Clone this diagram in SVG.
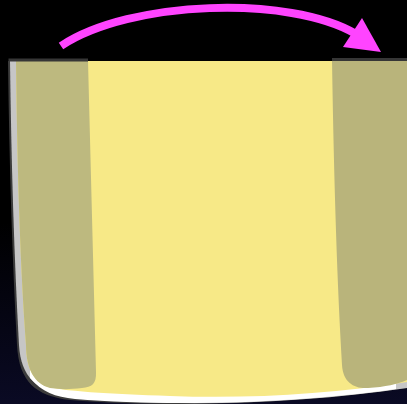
<svg xmlns="http://www.w3.org/2000/svg" width="407" height="404" viewBox="0 0 407 404">
  <defs>
    <linearGradient id="bg" x1="0" y1="0" x2="0" y2="1">
      <stop offset="0" stop-color="#000000"/>
      <stop offset="0.55" stop-color="#000000"/>
      <stop offset="1" stop-color="#0a0a24"/>
    </linearGradient>
    <style>
      .band { fill: #bdb97f; }
      .bandR { fill: #b9b47b; }
      .lid { fill: #363636; }
      .arrow { fill: none; stroke: #ff44ff; stroke-width: 8; }
    </style>
  </defs>
  <rect width="407" height="404" fill="url(#bg)"/>

  <g id="cup">
    <path d="M8,61 Q10,220 17,345 C19,382 36,396 70,400 C170,408 300,404 407,388 L407,61 Z" fill="#3c3c3c"/>
    <path d="M10,61 Q12,220 19,345 C21,377 36,391 70,397 C170,408 300,404 407,388 L407,61 Z" fill="#c6c6c6"/>
    <path d="M30,378 C42,392 55,397 75,399 C170,407 300,403 396,389 L396,370 L30,370 Z" fill="#ffffff"/>
    <path d="M16,61 L407,61 L407,382 C330,394 250,399 170,396 C110,394 60,391 45,386 C30,378 26,362 26,345 Q18,240 16,61 Z" fill="#f7e987"/>
  </g>

  <g id="band-left">
    <path class="band" d="M16,61 L88,61 L96,372 C96.5,384 92,387 82,388 C70,389.5 60,389.5 50,388 C34,384 26,368 26,345 Q18,240 16,61 Z"/>
    <rect class="lid" x="8.5" y="58.5" width="79.5" height="3"/>
  </g>

  <g id="band-right">
    <path class="bandR" d="M332,60 L407,60 L407,380 C398,384 385,387 368,388 C355,389 343,383 342,365 Q335,250 332,60 Z"/>
    <rect class="lid" x="332" y="58" width="75" height="3"/>
  </g>

  <g id="connectors">
    <path class="arrow" d="M61,46 C130,0 290,-5 356,34"/>
    <polygon points="362,18 381,52 343,47" fill="#ff44ff"/>
  </g>
</svg>
